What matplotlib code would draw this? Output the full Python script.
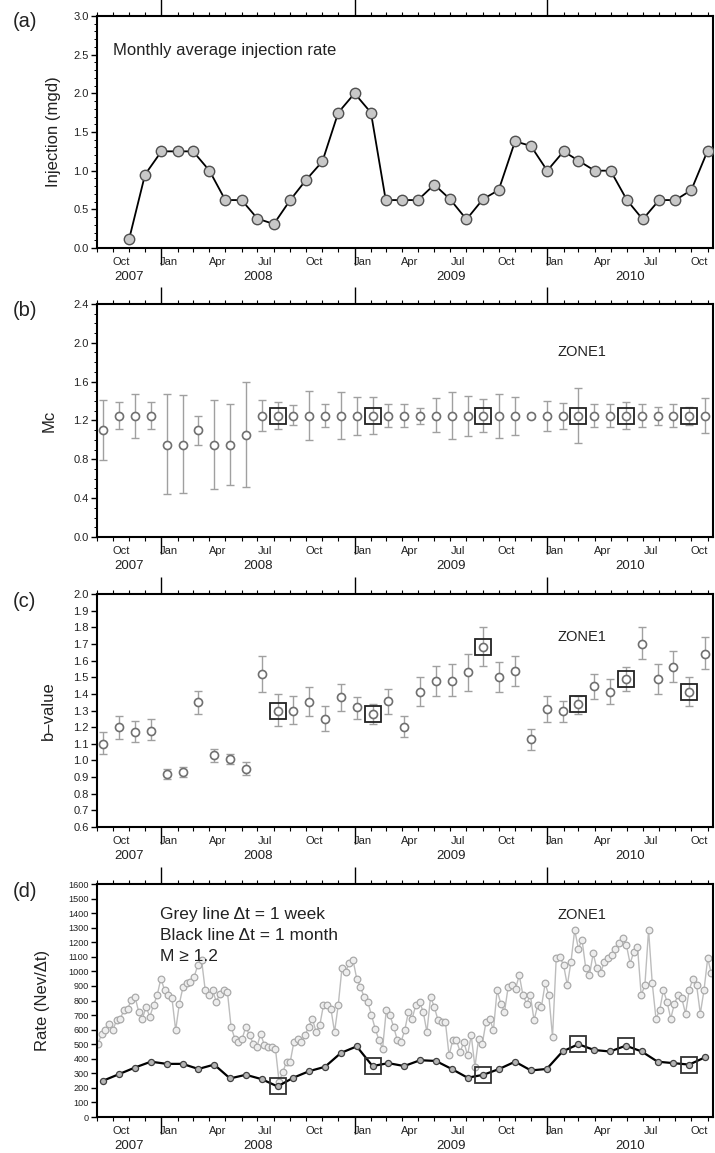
import matplotlib
matplotlib.use("Agg")
import matplotlib.pyplot as plt
import matplotlib.dates as mdates
import numpy as np
import pandas as pd
from matplotlib.ticker import MultipleLocator, FormatStrFormatter, NullFormatter
from matplotlib.transforms import blended_transform_factory

plt.rcParams['font.family'] = ['Liberation Sans', 'DejaVu Sans']

# (a) monthly injection, Nov 2007 - Nov 2010
inj_start = '2007-11-01'
injection = [0.12, 0.95,
             1.25, 1.25, 1.25, 1.0, 0.62, 0.62, 0.38, 0.31, 0.62, 0.88, 1.12, 1.75,
             2.0, 1.75, 0.62, 0.62, 0.62, 0.82, 0.63, 0.37, 0.63, 0.75, 1.38, 1.32,
             1.0, 1.25, 1.13, 1.0, 1.0, 0.62, 0.37, 0.62, 0.62, 0.75, 1.26]

# (b)-(d) 30 day windows
win_start = '2007-09-13'
mc = [1.1, 1.25, 1.25, 1.25, 0.95, 0.95, 1.1, 0.95, 0.95, 1.05] + [1.25] * 29
mc_high = [1.41, 1.39, 1.47, 1.39, 1.47, 1.46, 1.25, 1.41, 1.37, 1.60,
           1.41, 1.39, 1.36, 1.50, 1.37, 1.49, 1.44, 1.44, 1.37, 1.37,
           1.33, 1.43, 1.49, 1.45, 1.42, 1.47, 1.44, 1.27, 1.40, 1.38,
           1.53, 1.37, 1.37, 1.39, 1.37, 1.34, 1.37, 1.34, 1.43]
mc_low = [0.79, 1.11, 1.02, 1.11, 0.44, 0.45, 0.95, 0.49, 0.53, 0.51,
          1.09, 1.11, 1.15, 1.00, 1.13, 1.01, 1.05, 1.06, 1.13, 1.13,
          1.16, 1.08, 1.01, 1.04, 1.08, 1.02, 1.05, 1.23, 1.09, 1.11,
          0.97, 1.13, 1.13, 1.11, 1.13, 1.15, 1.13, 1.15, 1.07]

bval = [1.10, 1.20, 1.17, 1.18, 0.92, 0.93, 1.35, 1.03, 1.01, 0.95,
        1.52, 1.30, 1.30, 1.35, 1.25, 1.38, 1.32, 1.28, 1.36, 1.20,
        1.41, 1.48, 1.48, 1.53, 1.68, 1.50, 1.54, 1.13, 1.31, 1.30,
        1.34, 1.45, 1.41, 1.49, 1.70, 1.49, 1.56, 1.41, 1.64]
bval_high = [1.17, 1.27, 1.24, 1.25, 0.95, 0.96, 1.42, 1.07, 1.04, 0.99,
             1.63, 1.40, 1.39, 1.44, 1.33, 1.46, 1.38, 1.34, 1.43, 1.27,
             1.50, 1.57, 1.58, 1.64, 1.80, 1.59, 1.63, 1.19, 1.39, 1.36,
             1.39, 1.52, 1.49, 1.56, 1.80, 1.58, 1.66, 1.50, 1.74]
bval_low = [1.04, 1.13, 1.11, 1.12, 0.89, 0.90, 1.28, 0.99, 0.98, 0.91,
            1.41, 1.21, 1.22, 1.27, 1.18, 1.30, 1.25, 1.22, 1.28, 1.14,
            1.33, 1.39, 1.39, 1.42, 1.57, 1.41, 1.45, 1.06, 1.23, 1.23,
            1.28, 1.37, 1.34, 1.42, 1.61, 1.40, 1.47, 1.33, 1.55]

rate_month = [250, 295, 340, 380, 365, 365, 330, 360, 265, 290,
              260, 210, 270, 315, 345, 440, 485, 350, 370, 350,
              390, 385, 330, 270, 290, 330, 380, 320, 330, 450,
              500, 460, 450, 490, 450, 380, 370, 360, 410]

boxed = [11, 17, 24, 30, 33, 37]

# weekly rate (grey line)
week_start = '2007-09-03'
rate_week = [504, 573, 596, 642, 596, 665, 676, 733, 745, 802, 825, 722, 676, 756, 688,
             768, 837, 951, 871, 837, 814, 596, 779, 894, 917, 928, 963, 1043, 1080, 871,
             837, 871, 791, 848, 871, 860, 619, 539, 516, 539, 619, 561, 504, 481,
             573, 493, 481, 481, 470, 240, 309, 378, 378, 516, 539, 516, 560, 619, 676,
             584, 630, 768, 768, 745, 584, 768, 1020, 997, 1060, 1077, 951, 894, 825, 791,
             699, 607, 530, 470, 733, 699, 619, 527,
             516, 596, 722, 676, 768, 791, 722, 584, 825, 756, 665, 653, 653, 424, 527,
             527, 447, 516, 424, 561, 344, 539, 504, 653, 676, 596, 871, 779, 722, 894,
             905, 882, 974, 837, 779, 837, 665, 768, 756, 917,
             837, 550, 1089, 1100, 1043, 905, 1066, 1284, 1157, 1215, 1020, 974, 1123, 1020,
             986, 1066, 1089, 1112, 1157, 1192, 1226, 1180, 1054, 1135, 1169, 837, 905, 1284,
             917, 676, 733, 871, 791, 676, 779, 837, 814, 710, 871, 951, 905, 710, 871,
             1089, 986]

inj_dates = pd.date_range(inj_start, periods=len(injection), freq='MS')
win_dates = pd.date_range(win_start, periods=len(mc), freq='30D')
week_dates = pd.date_range(week_start, periods=len(rate_week), freq='7D')

x0 = pd.Timestamp('2007-09-01')
x1 = pd.Timestamp('2010-11-12')

TXT = '#222222'


def time_axis(ax):
    ax.set_xlim(x0, x1)
    ax.xaxis.set_major_locator(mdates.YearLocator())
    ax.xaxis.set_minor_locator(mdates.MonthLocator())
    ax.xaxis.set_major_formatter(NullFormatter())
    ax.xaxis.set_minor_formatter(NullFormatter())
    ax.tick_params(axis='x', which='major', top=True, bottom=True, direction='out',
                   length=12, width=1.0)
    ax.tick_params(axis='x', which='minor', top=True, bottom=True, direction='out',
                   length=3, width=0.8)
    ax.tick_params(axis='y', which='major', direction='out', length=4, width=1.0,
                   labelsize=8, labelcolor=TXT, pad=2)
    ax.tick_params(axis='y', which='minor', direction='out', length=2, width=0.7)
    for s in ax.spines.values():
        s.set_linewidth(1.5)
    tr = blended_transform_factory(ax.transData, ax.transAxes)
    # month labels centred in the month
    for d in pd.date_range('2007-10-01', '2010-10-01', freq='3MS'):
        ax.text(d + pd.Timedelta(days=15), -0.06, d.strftime('%b'), transform=tr,
                ha='center', va='center', fontsize=8, color=TXT)
    # year labels centred on the visible part of each year
    for yr in [2007, 2008, 2009, 2010]:
        a = max(pd.Timestamp(f'{yr}-01-01'), x0)
        b = min(pd.Timestamp(f'{yr + 1}-01-01'), x1)
        ax.text(a + (b - a) / 2, -0.125, str(yr), transform=tr,
                ha='center', va='center', fontsize=9.5, color=TXT)


fig = plt.figure(figsize=(7.15, 11.53), dpi=100)
L, W = 0.1357, 0.8622
ax_a = fig.add_axes([L, 0.7849, W, 0.2012])
ax_b = fig.add_axes([L, 0.5343, W, 0.2021])
ax_c = fig.add_axes([L, 0.2827, W, 0.2021])
ax_d = fig.add_axes([L, 0.0312, W, 0.2021])

# (a)
ax_a.plot(inj_dates, injection, '-', color='black', lw=1.3, zorder=2)
ax_a.plot(inj_dates, injection, 'o', ms=7.5, mfc='#c8c8c8', mec='#505050', mew=1.0, zorder=3)
ax_a.set_ylim(0, 3.0)
ax_a.yaxis.set_major_locator(MultipleLocator(0.5))
ax_a.yaxis.set_minor_locator(MultipleLocator(0.1))
ax_a.yaxis.set_major_formatter(FormatStrFormatter('%.1f'))
ax_a.set_ylabel('Injection (mgd)', fontsize=12, color=TXT)
ax_a.yaxis.set_label_coords(-0.058, 0.5)
ax_a.text(0.026, 0.853, 'Monthly average injection rate', transform=ax_a.transAxes,
          fontsize=12, va='center', color=TXT)
time_axis(ax_a)


def err_panel(ax, vals, lo, hi, zone_y):
    v = np.array(vals)
    yerr = [v - np.array(lo), np.array(hi) - v]
    ax.errorbar(win_dates, v, yerr=yerr, fmt='none', ecolor='#a0a0a0', elinewidth=1.0,
                capsize=3, capthick=1.0, zorder=2)
    ax.plot(win_dates, v, 'o', ms=5.8, mfc='white', mec='#707070', mew=1.2, zorder=3)
    ax.plot(win_dates[boxed], v[boxed], 's', ms=12, mfc='none', mec='#222222', mew=1.3, zorder=4)
    ax.text(0.747, zone_y, 'ZONE1', transform=ax.transAxes, fontsize=10.5, color=TXT, va='center')


# (b)
err_panel(ax_b, mc, mc_low, mc_high, 0.794)
ax_b.set_ylim(0, 2.4)
ax_b.yaxis.set_major_locator(MultipleLocator(0.4))
ax_b.yaxis.set_minor_locator(MultipleLocator(0.1))
ax_b.yaxis.set_major_formatter(FormatStrFormatter('%.1f'))
ax_b.set_ylabel('Mc', fontsize=12, color=TXT)
ax_b.yaxis.set_label_coords(-0.065, 0.5)
time_axis(ax_b)

# (c)
err_panel(ax_c, bval, bval_low, bval_high, 0.817)
ax_c.set_ylim(0.6, 2.0)
ax_c.yaxis.set_major_locator(MultipleLocator(0.1))
ax_c.yaxis.set_major_formatter(FormatStrFormatter('%.1f'))
ax_c.set_ylabel('b\u2013value', fontsize=12, color=TXT)
ax_c.yaxis.set_label_coords(-0.066, 0.5)
time_axis(ax_c)

# (d)
rm = np.array(rate_month)
ax_d.plot(week_dates, rate_week, '-', color='#bdbdbd', lw=1.0, zorder=2)
ax_d.plot(week_dates, rate_week, 'o', ms=4.8, mfc='#eeeeee', mec='#aaaaaa', mew=0.9, zorder=2)
ax_d.plot(win_dates, rm, '-', color='black', lw=1.6, zorder=3)
ax_d.plot(win_dates, rm, 'o', ms=4.4, mfc='#b5b5b5', mec='#404040', mew=0.9, zorder=4)
ax_d.plot(win_dates[boxed], rm[boxed], 's', ms=11, mfc='none', mec='#333333', mew=1.3, zorder=5)
ax_d.set_ylim(0, 1600)
ax_d.yaxis.set_major_locator(MultipleLocator(100))
ax_d.yaxis.set_major_formatter(FormatStrFormatter('%d'))
ax_d.set_ylabel('Rate (Nev/\u0394t)', fontsize=12, color=TXT)
ax_d.yaxis.set_label_coords(-0.076, 0.5)
time_axis(ax_d)
ax_d.tick_params(axis='y', labelsize=6.6)
ax_d.text(0.747, 0.867, 'ZONE1', transform=ax_d.transAxes, fontsize=10.5, color=TXT, va='center')
for ty, line in zip([0.867, 0.777, 0.687],
                    ['Grey line \u0394t = 1 week', 'Black line \u0394t = 1 month', 'M \u2265 1.2']):
    ax_d.text(0.102, ty, line, transform=ax_d.transAxes, fontsize=12.5, color=TXT, va='center')

# panel letters
for y, lab in zip([0.981, 0.731, 0.478, 0.2264], ['(a)', '(b)', '(c)', '(d)']):
    fig.text(0.018, y, lab, fontsize=14.5, color=TXT, va='center')

fig.savefig('out.png', dpi=100)
